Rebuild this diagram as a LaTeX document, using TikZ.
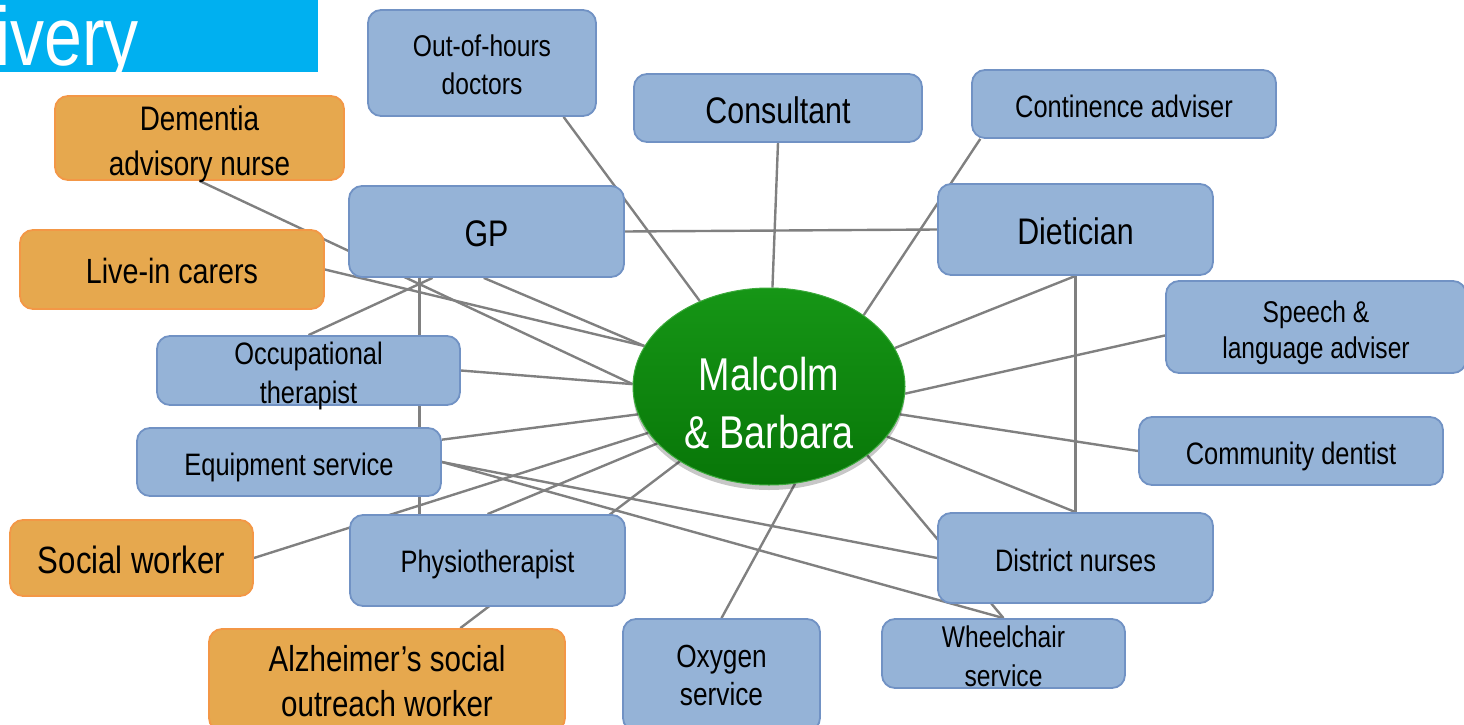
\documentclass[tikz,border=0pt]{standalone}
\usepackage{fontspec}
\setmainfont{Liberation Sans}[FakeStretch=0.82]
\usetikzlibrary{backgrounds,calc,shadows,shapes.geometric}
\definecolor{boxblue}{RGB}{149,179,215}
\definecolor{boxblueb}{RGB}{113,146,196}
\definecolor{boxorange}{RGB}{230,168,78}
\definecolor{boxorangeb}{RGB}{243,151,70}
\definecolor{linegray}{RGB}{128,128,128}
\definecolor{titlecyan}{RGB}{0,176,240}
\definecolor{gtop}{RGB}{22,150,22}
\definecolor{gmid}{RGB}{10,136,10}
\definecolor{gbot}{RGB}{8,118,8}
\definecolor{grim}{RGB}{60,170,60}
\begin{document}
\begin{tikzpicture}[x=1pt,y=-1pt,
  bluebox/.style={draw=boxblueb, fill=boxblue, line width=1.8pt, rounded corners=13pt, inner sep=0pt, align=center},
  orangebox/.style={draw=boxorangeb, fill=boxorange, line width=1.8pt, rounded corners=13pt, inner sep=0pt, align=center},
  oneline/.style={text depth=0pt, text height=#1},
  conn/.style={draw=linegray, line width=2.4pt},
]
\clip (0,0) rectangle (1464,725);

% title bar
\fill[titlecyan] (0,0) rectangle (318,72);
\node[anchor=base west, inner sep=0pt, text=white, font=\fontsize{83}{83}\selectfont] (title) at (-5,66) {ivery};

% boxes
\node[bluebox, minimum width=228pt, minimum height=106pt, font=\fontsize{30}{39}\selectfont] (ooh) at (482,63) {\rule{0pt}{25pt}Out-of-hours\\\smash{doctors}};
\node[bluebox, oneline=30.5pt, minimum width=288pt, minimum height=68pt, font=\fontsize{37}{44}\selectfont] (cons) at (778,108) {Consultant};
\node[bluebox, oneline=26pt, minimum width=304pt, minimum height=68pt, font=\fontsize{31}{39}\selectfont] (cont) at (1124,104) {Continence adviser};
\node[orangebox, minimum width=289pt, minimum height=84pt, font=\fontsize{34}{45}\selectfont] (dem) at (199.5,138) {\rule{0pt}{29pt}Dementia\\\smash{advisory nurse}};
\node[bluebox, oneline=30.5pt, minimum width=275pt, minimum height=91pt, font=\fontsize{37}{44}\selectfont] (gp) at (486.5,231.5) {GP};
\node[bluebox, oneline=30.5pt, minimum width=275pt, minimum height=91pt, font=\fontsize{37}{44}\selectfont] (diet) at (1075.5,229.5) {Dietician};
\node[orangebox, oneline=28pt, minimum width=304pt, minimum height=79pt, font=\fontsize{35}{44}\selectfont] (live) at (172,269.5) {Live-in carers};
\node[bluebox, minimum width=300pt, minimum height=92pt, font=\fontsize{30}{36}\selectfont] (sp) at (1316,327) {\rule{0pt}{26pt}Speech \&\\\smash{language adviser}};
\node[bluebox, minimum width=303pt, minimum height=69pt, font=\fontsize{31}{39}\selectfont] (ot) at (308.5,370.5) {\rule{0pt}{26pt}Occupational\\\smash{therapist}};
\node[bluebox, oneline=26pt, minimum width=304pt, minimum height=68pt, font=\fontsize{31}{39}\selectfont] (eq) at (289,462) {Equipment service};
\node[bluebox, oneline=26pt, minimum width=304pt, minimum height=68pt, font=\fontsize{31}{39}\selectfont] (den) at (1291,451) {Community dentist};
\node[orangebox, oneline=31pt, minimum width=243pt, minimum height=76pt, font=\fontsize{38}{44}\selectfont] (sw) at (131.5,558) {Social worker};
\node[bluebox, oneline=24pt, minimum width=275pt, minimum height=91pt, font=\fontsize{31}{39}\selectfont] (phys) at (487.5,560.5) {Physiotherapist};
\node[bluebox, oneline=26pt, minimum width=275pt, minimum height=90pt, font=\fontsize{31}{39}\selectfont] (dn) at (1075.5,558) {District nurses};
\node[orangebox, minimum width=356pt, minimum height=102pt, font=\fontsize{36}{45}\selectfont] (alz) at (387,680) {\rule{0pt}{27pt}Alzheimer’s social\\\smash{outreach worker}};
\node[bluebox, minimum width=197pt, minimum height=112pt, font=\fontsize{32}{38}\selectfont] (oxy) at (721.5,675) {\rule{0pt}{23pt}Oxygen\\\smash{service}};
\node[bluebox, minimum width=243pt, minimum height=69pt, font=\fontsize{30}{39}\selectfont] (wc) at (1003.5,653.5) {\rule{0pt}{26pt}Wheelchair\\\smash{service}};

% centre ellipse
\node[ellipse, minimum width=272pt, minimum height=197pt, inner sep=0pt,
      top color=gtop, middle color=gmid, bottom color=gbot, draw=grim, line width=1pt,
      drop shadow={shadow xshift=0pt, shadow yshift=-5pt, opacity=0.22, fill=black}] (mb) at (769,386.5) {};
\node[text=white, align=center, inner sep=0pt, font=\fontsize{46}{58}\selectfont] (mbtext) at (769,403) {Malcolm\\\& Barbara};

% connectors
\begin{pgfonlayer}{background}
\draw[conn] ($(ooh.south west)!0.855!(ooh.south east)$) -- (mb.129);
\draw[conn] (cons.south) -- (mb.88);
\draw[conn] ($(cont.south west)!0.03!(cont.south east)$) -- (mb.37);
\draw[conn] (gp.east) -- (diet.west);
\draw[conn] (dem.south) -- (mb.179);
\draw[conn] (live.east) -- (mb.162.6);
\draw[conn] ($(gp.south west)!0.49!(gp.south east)$) -- (mb.162.6);
\draw[conn] (ot.north) -- ($(gp.south west)!0.305!(gp.south east)$);
\draw[conn] ($(gp.south west)!0.258!(gp.south east)$) coordinate (gpv) -- (gpv |- phys.north);
\draw[conn] (ot.east) -- (mb.179.4);
\draw[conn] ($(eq.north east)!0.18!(eq.south east)$) -- (mb.192.7);
\draw[conn] (eq.east) -- (dn.west);
\draw[conn] (eq.east) -- (wc.north);
\draw[conn] (sw.east) -- (mb.201);
\draw[conn] (phys.north) -- (mb.207);
\draw[conn] ($(alz.north west)!0.705!(alz.north east)$) -- (mb.220.7);
\draw[conn] (oxy.north) -- (mb.-75);
\draw[conn] (diet.south) -- (mb.17.4);
\draw[conn] (diet.south) -- (dn.north);
\draw[conn] ($(sp.north west)!0.59!(sp.south west)$) -- (mb.-3.6);
\draw[conn] (den.west) -- (mb.-12);
\draw[conn] (dn.north) -- (mb.-23.6);
\draw[conn] (wc.north) -- (mb.-35);
\end{pgfonlayer}
\end{tikzpicture}
\end{document}
